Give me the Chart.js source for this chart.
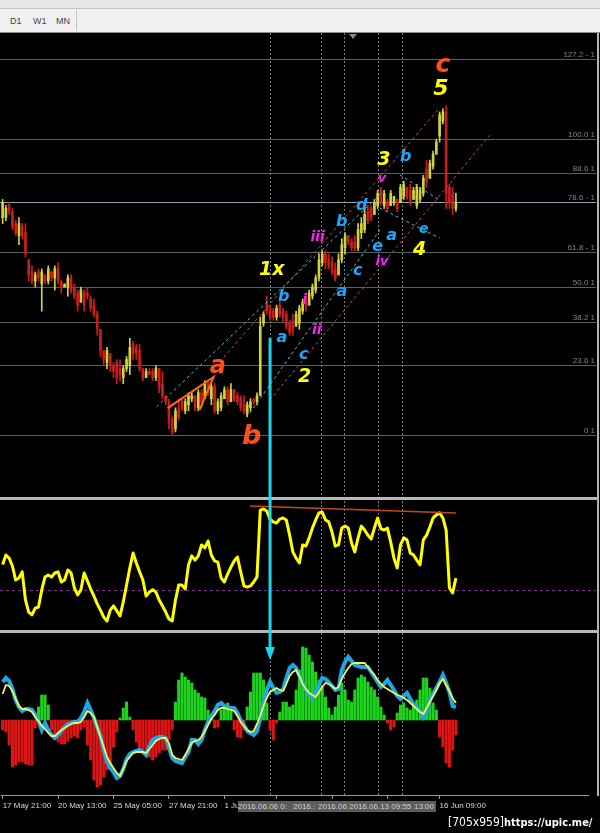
<!DOCTYPE html>
<html>
<head>
<meta charset="utf-8">
<title>H4 wave count</title>
<script src="https://cdn.jsdelivr.net/npm/chart.js@4.4.1/dist/chart.umd.min.js"></script>
<style>
body { margin:0; background:#000; width:600px; height:833px; overflow:hidden; position:relative; font-family:"Liberation Sans", Arial, sans-serif; }
#topstrip { position:absolute; left:0; top:0; width:600px; height:8px; background:#e6e6e6; border-bottom:1px solid #c4c4c4; }
#toolbar { position:absolute; left:0; top:9px; width:600px; height:23px; background:#f0f0f0; border-bottom:1px solid #8c8c8c; }
#toolbar span { position:absolute; top:7px; font-size:9px; color:#444; }
#toolbar .sep { position:absolute; left:76px; top:1px; width:1px; height:21px; background:#c4c4c4; }
canvas { position:absolute; left:0; }
#price { top:33px; }
#rsi { top:497px; }
#macd { top:633px; }
#shift { position:absolute; left:349px; top:34px; width:0; height:0; border-left:4px solid transparent; border-right:4px solid transparent; border-top:5px solid #8a8a8a; }
#frame { position:absolute; left:597px; top:33px; width:2px; height:763px; background:#b4b4b4; }
#datebox { position:absolute; left:238px; top:801px; width:198px; height:11px; background:#5c5c5c; overflow:hidden; }
#datebox span { position:absolute; top:0; font-size:8px; line-height:11px; color:#cfcfcf; white-space:nowrap; overflow:hidden; }
#stamp { position:absolute; left:448px; top:815px; color:#fff; font-size:12px; font-family:"DejaVu Sans Condensed", "DejaVu Sans", sans-serif; white-space:nowrap; }
#stamp b { font-size:11px; }
</style>
</head>
<body>
<div id="topstrip"></div>
<div id="toolbar"><span style="left:10px">D1</span><span style="left:33px">W1</span><span style="left:56px">MN</span><div class="sep"></div></div>
<canvas id="price" width="600" height="464"></canvas>
<canvas id="rsi" width="600" height="136"></canvas>
<canvas id="macd" width="600" height="200"></canvas>
<div id="shift"></div>
<div id="frame"></div>
<div id="datebox">
  <span style="left:0;width:54px">2016.06.06 0:</span>
  <span style="left:55px;width:23px">2016.:</span>
  <span style="left:80px;width:30px">2016.06.:</span>
  <span style="left:111px;width:64px">2016.06.13 09:55</span>
  <span style="left:176px;width:22px">13:00</span>
</div>
<div id="stamp">[705x959]<b>https://upic.me/</b></div>
<script>
// H4 bars, price in units where the fibo 0 level sits at 0
const SLOTS = 180; // 140 bars + chart shift space
const highs = [78,76,77,75,71,72,70,70,58,56, 54,55,55,53,56,54,56,57,51,50, 53,53,50,48,49,48,49,46,45,41,
  35,28,29,26,24,25,25,23,26,32, 31,30,30,22,22,22,22,23,22,21, 13,12,6,9,12,12,12,14,14,13,
  15,15,18,18,17,17,12,14,16,16, 17,15,14,13,13,11,12,12,14,39, 41,46,43,42,43,44,42,41,38,40,
  41,43,45,46,48,50,53,60,61,61, 60,59,57,60,65,67,66,65,66,70, 72,75,76,76,78,81,82,81,78,81,
  79,78,83,84,82,83,82,83,82,86, 91,91,94,98,107,108,109,83,82,80];
const lows = [70,71,73,68,66,63,65,59,51,50, 49,51,41,50,50,51,48,50,47,49, 46,47,45,41,44,41,45,41,39,33,
  26,23,22,21,19,17,18,17,21,20, 25,25,21,18,19,20,18,18,14,12, 10,2,0,1,5,8,7,8,11,8,
  8,9,12,13,10,7,7,8,12,10, 11,11,10,8,7,6,8,10,10,13, 36,40,38,38,38,39,37,35,33,33,
  36,35,40,41,43,45,47,51,56,55, 55,53,51,53,57,60,63,61,61,61, 65,67,70,71,73,75,76,75,74,76,
  76,74,77,78,78,76,78,75,77,79, 82,85,88,93,97,103,75,75,73,74];
const opens = [72,72,76,74,70,66,69,67,58,54, 51,54,50,53,51,54,52,55,51,49, 49,52,49,47,44,47,47,45,43,40,
  35,28,24,27,23,24,22,19,22,23, 30,29,28,22,19,21,21,19,22,17, 13,11,5,2,9,11,8,10,12,13,
  9,14,12,17,12,16,8,9,12,15, 11,15,13,12,10,7,9,12,11,13, 37,44,42,41,39,43,41,40,37,38,
  36,37,41,45,43,46,48,52,57,60, 58,57,55,53,58,62,66,64,64,62, 67,68,74,75,73,76,81,76,77,76,
  77,78,77,79,82,81,78,76,78,80, 88,85,89,93,99,104,107,82,80,75];
const closes = [77,75,74,69,67,70,66,60,53,51, 53,52,54,51,55,52,55,51,49,50, 52,48,46,43,48,43,46,42,40,35,
  28,25,28,23,21,19,20,22,25,29, 27,27,22,19,21,20,19,22,16,13, 11,4,1,8,6,9,11,13,13,9,
  14,11,17,14,16,8,11,13,15,11, 15,12,11,9,8,10,11,11,13,36, 40,41,39,39,42,40,39,36,34,35,
  40,42,44,43,47,49,52,58,60,57, 56,54,52,58,63,66,64,62,62,68, 70,73,71,72,77,80,77,80,75,80,
  79,75,82,83,79,77,81,82,81,85, 84,90,93,97,106,107,80,77,75,77];

const rsi = [59,62.4,61.3,58.5,53.5,54.2,56.4,46.4,42.1,41.1, 43.5,43.9,50,54.6,55.3,54.6,56,56.4,52.8,53.5,
  57.1,56,50.7,48.2,50,56,53.2,50.3,47.8,45, 42.8,40.3,38.9,42.8,44.3,42.5,40.7,45.7,51.7,57.8,
  63.1,59.6,56.4,53.5,47.8,49.2,50,49.2,46.4,44.3, 42.1,39.6,38.9,46.4,51.7,51.7,50.3,58.9,62.1,60.6,
  62.1,66,64.9,67.4,62.4,60.3,59.9,54.2,52.8,55.6, 58.1,60.3,61.7,56.4,51.4,51,51.4,52.8,54.6,78.4,
  78.8,78.1,75.2,74.2,73.8,75.2,75.6,74.9,69.5,63.5, 61.3,59.6,66,65.6,68.5,72,74.9,77.4,77.7,74.9,
  74.2,70.6,65.6,66,72,72.7,72,66.7,63.5,68.5, 72.7,71.3,69.5,68.1,72,75.6,71.7,71.3,72,67,
  61.3,57.8,66,68.5,67.8,63.1,62.4,60.6,58.9,67.8, 69.5,72.4,75.6,76.7,77.4,75.6,71.3,50.7,48.9,54.2];
const rsiLevel = 50;

const hist = [-1.0,-1.2,-2.5,-4.7,-4.5,-4.2,-4.2,-4.4,-4.5,-4.5, -0.8,1.3,2.5,2.5,1.5,-1.0,-1.8,-2.2,-2.4,-2.4,
  -2.1,-1.8,-1.6,-1.8,-1.0,-0.7,-2.5,-4.0,-6.0,-6.7, -6.5,-5.7,-5.0,-4.3,-2.7,-1.2,0.2,1.2,1.8,0.3,
  -1.0,-2.2,-3.0,-3.3,-3.5,-3.7,-4.0,-3.7,-3.3,-3.0, -3.0,-2.0,-1.0,1.8,4.0,4.7,4.3,4.0,3.7,3.0,
  2.7,2.3,2.2,1.0,0.2,-0.8,-0.7,1.0,1.5,1.7, 1.2,-1.0,-1.7,-1.8,-1.0,1.3,2.8,4.7,4.7,4.7,
  4.0,1.7,-1.0,-2.0,-0.3,0.8,1.8,1.8,1.3,1.5, 3.0,5.0,7.3,7.2,6.5,5.8,4.8,4.0,3.3,2.3,
  1.2,0.5,1.3,2.5,3.7,3.0,2.0,1.8,3.0,4.2, 4.5,4.3,3.8,3.3,3.0,2.3,1.3,0.5,-0.3,-1.0,
  -0.7,0.7,1.5,1.7,1.2,1.0,1.5,2.0,3.0,4.2, 4.2,3.2,1.7,1.0,-1.7,-2.7,-4.3,-4.7,-3.0,-1.5];
const macdBlue = [3.8,4.2,3.9,3.1,2.0,1.3,0.9,1.1,1.1,1.0, 0.5,-0.1,-1.0,-0.3,-1.0,-1.5,-1.8,-1.5,-1.1,-0.7,
  -0.4,-0.3,-0.2,-0.2,0.2,0.8,1.7,1.0,0.2,-0.7, -1.6,-3.0,-4.2,-4.8,-5.2,-5.8,-5.6,-4.9,-3.9,-3.4,
  -3.2,-3.1,-3.0,-3.2,-3.5,-2.6,-2.0,-1.8,-1.7,-1.7, -1.8,-2.8,-3.8,-4.1,-4.2,-4.3,-3.7,-3.2,-2.0,-2.0,
  -2.4,-2.0,-1.0,-0.2,0.4,0.9,1.5,1.7,1.4,1.2, 1.2,1.2,0.7,0,-0.5,-1.1,-1.3,-1.5,-1.1,0.2,
  1.7,3.0,3.8,3.2,2.7,2.8,3.1,4.2,5.2,5.5, 5.2,4.4,3.7,3.0,2.5,2.2,2.8,3.5,4.2,4.1,
  3.8,3.4,3.0,3.1,5.0,5.8,6.3,5.9,5.5,5.4, 5.3,5.3,5.3,4.8,4.3,3.8,3.3,3.6,4.0,3.5,
  3.0,2.4,2.1,2.4,2.7,2.1,1.6,1.3,0.9,0.3, 0.8,2.0,2.6,3.2,3.8,4.5,3.7,2.8,1.4,1.3];
const macdYellow = [2.6,3.5,3.4,2.9,2.1,1.4,1.1,1.1,1.0,0.8, 0.3,-0.1,-0.6,-0.9,-1.3,-1.6,-1.6,-1.3,-1.0,-0.8,
  -0.6,-0.4,-0.3,-0.3,-0.2,0.3,0.9,0.7,0.3,-0.7, -1.7,-2.7,-3.7,-4.3,-4.8,-5.3,-5.6,-4.9,-4.1,-3.7,
  -3.3,-3.2,-3.2,-3.2,-3.3,-2.9,-2.5,-2.1,-1.9,-1.8, -1.8,-2.3,-3.5,-3.8,-3.9,-4.0,-3.5,-2.9,-2.3,-2.1,
  -2.0,-1.7,-1.1,-0.5,0.1,0.5,1.0,1.2,1.2,1.1, 1.0,0.9,0.4,-0.2,-0.6,-1.0,-1.2,-1.1,-0.4,0.4,
  1.4,2.2,2.8,3.0,3.2,3.0,2.9,3.6,4.4,4.8, 5.0,4.4,3.6,3.1,2.7,2.5,2.3,2.8,3.3,3.7,
  3.6,3.4,3.1,3.3,4.1,4.7,5.2,5.6,5.7,5.7, 5.7,5.7,5.3,4.9,4.5,4.0,3.6,3.3,3.1,2.9,
  2.7,2.5,2.4,2.2,2.0,1.7,1.4,1.1,0.8,0.6, 1.2,1.8,2.4,3.0,3.7,4.1,3.5,2.9,2.2,1.7];

// time axis
const dateTickIdx = [0, 17, 34, 51, 68, 84, 101, 118, 134];
const dateTickText = ['17 May 21:00', '20 May 13:00', '25 May 05:00', '27 May 21:00', '1 Jun 13:00', '', '', '', '16 Jun 09:00'];

// fibo tool
const fibLow = 0, fibHigh = 98;
const fibLevels = [0, 23.6, 38.2, 50, 61.8, 78.6, 88.6, 100, 127.2];
const fibText = ['0 1', '23.6 1', '38.2 1', '50.0 1', '61.8 - 1', '78.6 - 1', '88.6 1', '100.0 1', '127.2 - 1'];

// drawn objects (bar index, price)
const ORANGE = '#ff5019', YEL = '#ffff00', BLUE = '#1aa8ff', MAG = '#ff1cff';
const waveLabels = [
  ['c', 135, 122.5, ORANGE, 25], ['5', 134.4, 114.6, YEL, 22], ['3', 116.9, 91, YEL, 19],
  ['b', 123.6, 92, BLUE, 16], ['v', 116.3, 84.8, MAG, 13], ['d', 110.1, 75.8, BLUE, 16],
  ['b', 104, 70.5, BLUE, 16], ['iii', 96.6, 65.6, MAG, 14], ['a', 119.3, 65.9, BLUE, 16],
  ['e', 115, 62.3, BLUE, 16], ['e', 129.1, 68.2, BLUE, 14], ['4', 127.9, 61.3, YEL, 19],
  ['iv', 116.3, 57.3, MAG, 13], ['c', 108.9, 54.3, BLUE, 16], ['a', 104, 47.4, BLUE, 16],
  ['1x', 82.5, 54.6, YEL, 19], ['b', 86.2, 45.7, BLUE, 16], ['i', 92.6, 44.7, MAG, 14],
  ['ii', 96.3, 34.8, MAG, 14], ['a', 85.6, 32.1, BLUE, 16], ['c', 92.3, 26.5, BLUE, 16],
  ['2', 92.6, 19.2, YEL, 19], ['a', 66, 22.5, ORANGE, 24], ['b', 76.4, -0.7, ORANGE, 27]
];
const channels = [
  ['#3fbfcf', 47.2, 9.3, 117.2, 81.1], ['#d24a22', 66.6, 24.2, 134, 108.3],
  ['#3fbfcf', 75.8, 7.3, 115.7, 67.9], ['#d24a22', 81.9, 11.6, 149.4, 99.3],
  ['#3fbfcf', 115.6, 75.2, 134, 65.2], ['#3fbfcf', 121.8, 86.1, 134, 77.8]
];
const aLeg = [[50.6, 8.9], [64.7, 19.2], [60.4, 8.3]];
const rsiTrend = [[75.8, 79.9], [139, 77.4]];
const vLineIdx = [82, 97.6, 104.7, 115.1, 122.5];
const arrowIdx = 82, arrowTop = 32.1, arrowTip = 6.0;

const labels = Array.from({ length: SLOTS }, (_, i) => String(i));
const bull = '#d2d23c', bear = '#cc1c1c';
const candleColors = closes.map((c, i) => c >= opens[i] ? bull : bear);
const pad = { left: 1, right: 12, top: 0, bottom: 0 };
const xHidden = { type: 'category', offset: true, display: false, grid: { display: false } };
const noUi = { legend: { display: false }, tooltip: { enabled: false } };

function vDots(chart, y0, y1) {
  const ctx = chart.ctx;
  ctx.save();
  ctx.strokeStyle = '#7a7a7a';
  ctx.lineWidth = 1;
  ctx.setLineDash([2, 2]);
  vLineIdx.forEach(i => {
    const x = Math.round(chart.scales.x.getPixelForValue(i)) + 0.5;
    ctx.beginPath(); ctx.moveTo(x, y0); ctx.lineTo(x, y1); ctx.stroke();
  });
  ctx.restore();
}
function cyan(chart, y0, y1) {
  const ctx = chart.ctx, x = chart.scales.x.getPixelForValue(arrowIdx);
  ctx.save();
  ctx.strokeStyle = '#19d6ee';
  ctx.lineWidth = 3;
  ctx.beginPath(); ctx.moveTo(x, y0); ctx.lineTo(x, y1); ctx.stroke();
  ctx.restore();
}

const pricePlugin = {
  id: 'priceDeco',
  beforeDatasetsDraw(chart) {
    const ctx = chart.ctx, ys = chart.scales.y;
    ctx.save();
    ctx.font = '8px "Liberation Sans"';
    ctx.textAlign = 'right';
    ctx.textBaseline = 'bottom';
    fibLevels.forEach((lv, k) => {
      const y = Math.round(ys.getPixelForValue(fibLow + lv / 100 * (fibHigh - fibLow))) + 0.5;
      ctx.strokeStyle = '#56605f';
      ctx.lineWidth = 1;
      ctx.beginPath(); ctx.moveTo(0, y); ctx.lineTo(596, y); ctx.stroke();
      ctx.fillStyle = '#7c8888';
      ctx.fillText(fibText[k], 595, y - 1);
    });
    // bid line
    const yb = Math.round(ys.getPixelForValue(closes[closes.length - 1])) + 0.5;
    ctx.strokeStyle = '#8ea2b0';
    ctx.beginPath(); ctx.moveTo(0, yb); ctx.lineTo(596, yb); ctx.stroke();
    ctx.restore();
    vDots(chart, 0, chart.height);
  },
  afterDatasetsDraw(chart) {
    const ctx = chart.ctx, xs = chart.scales.x, ys = chart.scales.y;
    const P = (i, v) => [xs.getPixelForValue(i), ys.getPixelForValue(v)];
    ctx.save();
    ctx.lineWidth = 1;
    ctx.setLineDash([3, 3]);
    channels.forEach(([col, i0, v0, i1, v1]) => {
      ctx.strokeStyle = col;
      ctx.beginPath(); ctx.moveTo(...P(i0, v0)); ctx.lineTo(...P(i1, v1)); ctx.stroke();
    });
    ctx.setLineDash([]);
    ctx.strokeStyle = '#ff6a1a';
    ctx.lineWidth = 2;
    ctx.beginPath();
    aLeg.forEach(([i, v], k) => k ? ctx.lineTo(...P(i, v)) : ctx.moveTo(...P(i, v)));
    ctx.stroke();
    ctx.restore();
    cyan(chart, ys.getPixelForValue(arrowTop), chart.height);
    ctx.save();
    ctx.textAlign = 'center';
    ctx.textBaseline = 'middle';
    waveLabels.forEach(([t, i, v, col, size]) => {
      ctx.font = `italic bold ${size}px "DejaVu Sans"`;
      ctx.fillStyle = col;
      ctx.fillText(t, ...P(i, v));
    });
    ctx.restore();
  }
};

const rsiPlugin = {
  id: 'rsiDeco',
  beforeDatasetsDraw(chart) {
    const ctx = chart.ctx;
    vDots(chart, 0, chart.height);
    const y = Math.round(chart.scales.y.getPixelForValue(rsiLevel)) + 0.5;
    ctx.save();
    ctx.strokeStyle = '#7a2a8c';
    ctx.setLineDash([3, 3]);
    ctx.beginPath(); ctx.moveTo(0, y); ctx.lineTo(596, y); ctx.stroke();
    ctx.restore();
  },
  afterDatasetsDraw(chart) {
    const ctx = chart.ctx, xs = chart.scales.x, ys = chart.scales.y;
    ctx.save();
    ctx.strokeStyle = '#c8441c';
    ctx.lineWidth = 1.5;
    ctx.beginPath();
    ctx.moveTo(xs.getPixelForValue(rsiTrend[0][0]), ys.getPixelForValue(rsiTrend[0][1]));
    ctx.lineTo(xs.getPixelForValue(rsiTrend[1][0]), ys.getPixelForValue(rsiTrend[1][1]));
    ctx.stroke();
    // window separators
    ctx.fillStyle = '#b8b8b8';
    ctx.fillRect(0, 0, 598, 3);
    ctx.fillRect(0, chart.height - 3, 598, 3);
    ctx.restore();
    cyan(chart, 0, chart.height);
  }
};

const macdPlugin = {
  id: 'macdDeco',
  beforeDatasetsDraw(chart) {
    vDots(chart, 0, chart.chartArea.bottom);
  },
  afterDatasetsDraw(chart) {
    const ctx = chart.ctx, ys = chart.scales.y;
    const x = chart.scales.x.getPixelForValue(arrowIdx);
    const tip = ys.getPixelForValue(arrowTip);
    cyan(chart, 0, tip - 10);
    ctx.save();
    ctx.fillStyle = '#19d6ee';
    ctx.beginPath();
    ctx.moveTo(x - 5, tip - 13); ctx.lineTo(x + 5, tip - 13); ctx.lineTo(x, tip);
    ctx.closePath(); ctx.fill();
    ctx.restore();
  }
};

new Chart(document.getElementById('price'), {
  type: 'bar',
  data: {
    labels,
    datasets: [
      { data: lows.map((l, i) => [l, highs[i]]), backgroundColor: candleColors, barThickness: 1, grouped: false, order: 2 },
      { data: opens.map((o, i) => [o, closes[i]]), backgroundColor: candleColors, barThickness: 2, grouped: false, order: 1 }
    ]
  },
  options: {
    responsive: false, animation: false, events: [],
    layout: { padding: pad },
    plugins: noUi,
    scales: { x: xHidden, y: { display: false, min: -20.53, max: 133.11 } }
  },
  plugins: [pricePlugin]
});

new Chart(document.getElementById('rsi'), {
  type: 'line',
  data: {
    labels,
    datasets: [{ data: rsi, borderColor: '#ffff00', borderWidth: 3, pointRadius: 0, tension: 0, borderJoinStyle: 'round' }]
  },
  options: {
    responsive: false, animation: false, events: [],
    layout: { padding: pad },
    plugins: noUi,
    scales: { x: xHidden, y: { display: false, min: 34.64, max: 83.06 } }
  },
  plugins: [rsiPlugin]
});

new Chart(document.getElementById('macd'), {
  type: 'bar',
  data: {
    labels,
    datasets: [
      { type: 'bar', data: hist, backgroundColor: hist.map(v => v >= 0 ? '#1cd41c' : '#dc1414'), barThickness: 2.4, order: 3 },
      { type: 'line', data: macdBlue, borderColor: '#1ea6e6', borderWidth: 4, pointRadius: 0, tension: 0, order: 2 },
      { type: 'line', data: macdYellow, borderColor: '#f4f44a', borderWidth: 1.8, pointRadius: 0, tension: 0, order: 1 }
    ]
  },
  options: {
    responsive: false, animation: false, events: [],
    layout: { padding: pad },
    plugins: noUi,
    scales: {
      x: {
        type: 'category', offset: true, display: true,
        afterFit(s) { s.height = 38; },
        border: { display: true, color: '#9a9a9a', width: 1 },
        grid: {
          display: true, drawOnChartArea: false, drawTicks: true, tickLength: 4, offset: false,
          color: c => dateTickIdx.includes(c.index) ? '#9a9a9a' : 'rgba(0,0,0,0)'
        },
        ticks: {
          autoSkip: false, maxRotation: 0, minRotation: 0, align: 'start', padding: 2,
          color: '#dadada', font: { family: 'Liberation Sans', size: 8 },
          callback: (v, i) => { const k = dateTickIdx.indexOf(i); return k < 0 ? '' : dateTickText[k]; }
        }
      },
      y: { display: false, min: -7.5, max: 8.7 }
    }
  },
  plugins: [macdPlugin]
});
</script>
</body>
</html>
